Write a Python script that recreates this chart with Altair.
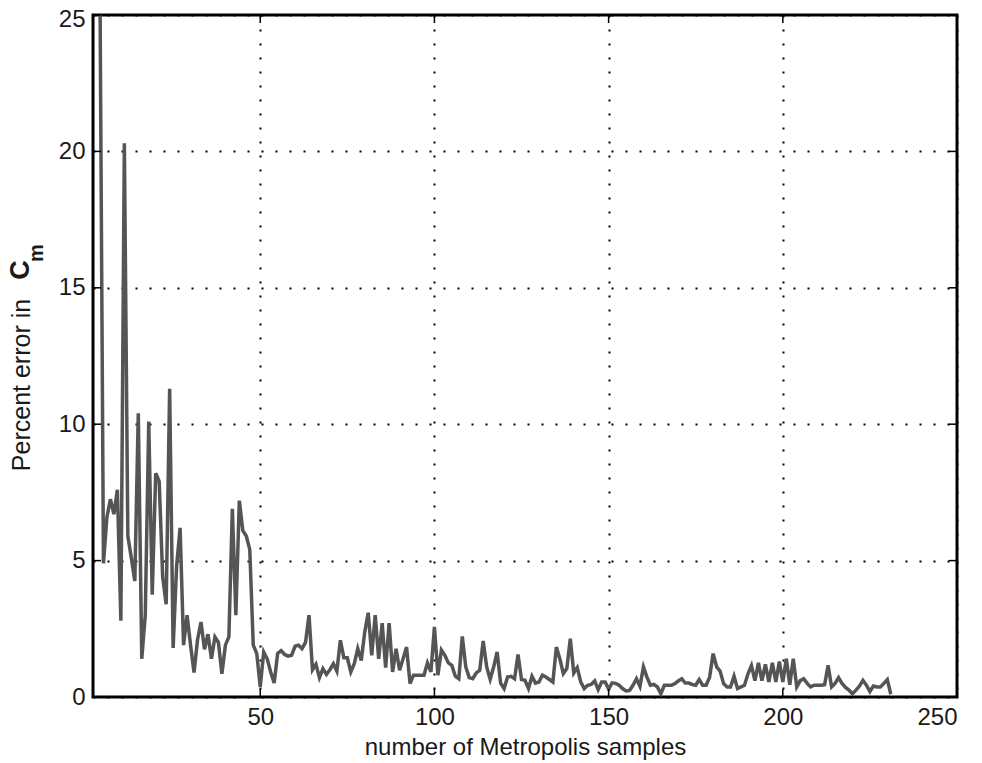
import altair as alt
import pandas as pd

# sample counts (x) and percent error values (y)
samples = list(range(2, 232))
errors = [
    40, 32, 26, 4.9, 6.6, 7.25, 6.7, 7.6, 2.8, 20.3,
    5.9, 5.1, 4.25, 10.4, 1.4, 3.0, 10.1, 3.75, 8.2, 7.9,
    4.4, 3.4, 11.3, 1.8, 4.8, 6.2, 1.9, 3.0, 1.9, 0.9,
    2.1, 2.75, 1.75, 2.3, 1.4, 2.2, 2.0, 0.85, 1.9, 2.2,
    6.9, 3.0, 7.2, 6.1, 5.9, 5.4, 1.9, 1.6, 0.37, 1.65,
    1.4, 0.92, 0.51, 1.6, 1.7, 1.56, 1.5, 1.53, 1.86, 1.9,
    1.77, 2.0, 3.0, 1.0, 1.2, 0.71, 1.04, 0.83, 1.0, 1.22,
    0.95, 2.08, 1.44, 1.44, 0.92, 1.22, 1.77, 1.34, 2.38, 3.09,
    1.53, 3.0, 1.4, 2.71, 1.08, 2.71, 0.92, 1.77, 0.98, 1.4,
    1.83, 0.49, 0.8, 0.8, 0.8, 0.8, 1.25, 0.92, 2.57, 0.8,
    1.72, 1.53, 1.25, 1.16, 0.76, 0.67, 2.22, 1.1, 0.71, 0.67,
    0.88, 0.98, 2.05, 1.1, 0.65, 1.1, 1.65, 0.51, 0.31, 0.73,
    0.76, 0.67, 1.56, 0.64, 0.61, 0.31, 0.76, 0.51, 0.55, 0.8,
    0.73, 0.64, 0.55, 1.83, 1.4, 0.86, 1.04, 2.14, 0.88, 1.08,
    0.55, 0.31, 0.43, 0.46, 0.59, 0.27, 0.55, 0.55, 0.29, 0.52,
    0.5, 0.43, 0.31, 0.22, 0.24, 0.43, 0.67, 0.39, 1.1, 0.73,
    0.43, 0.46, 0.37, 0.12, 0.43, 0.43, 0.43, 0.49, 0.59, 0.67,
    0.51, 0.51, 0.46, 0.43, 0.64, 0.43, 0.43, 0.73, 1.59, 1.1,
    0.95, 0.49, 0.37, 0.37, 0.76, 0.31, 0.37, 0.43, 0.85, 1.15,
    0.6, 1.25, 0.6, 1.2, 0.55, 1.25, 0.55, 1.3, 0.55, 1.4,
    0.45, 1.4, 0.37, 0.6, 0.67, 0.5, 0.37, 0.43, 0.43, 0.43,
    0.45, 1.16, 0.37, 0.5, 0.71, 0.5, 0.35, 0.25, 0.12, 0.25,
    0.4, 0.61, 0.43, 0.2, 0.4, 0.37, 0.37, 0.5, 0.64, 0.1,
]
assert len(samples) == len(errors)

x_ticks = [50, 100, 150, 200, 250]
y_ticks = [0, 5, 10, 15, 20, 25]

x_title = "number of Metropolis samples"
y_title_main = "Percent error in"
y_title_sym = "C"
y_title_sub = "m"

W, H = 864, 682
FONT = "Liberation Sans"
TXT = "#1a1a1a"

df = pd.DataFrame({"n": samples, "err": errors})
xt = pd.DataFrame({"v": x_ticks})
yt = pd.DataFrame({"v": y_ticks})

xscale = alt.Scale(domain=[2, 250], nice=False, zero=False)
yscale = alt.Scale(domain=[0, 25], nice=False)

grid_kw = dict(grid=True, gridColor="black", gridDash=[2, 12], gridWidth=2,
               gridOpacity=1, ticks=False, domain=False)

line = alt.Chart(df).mark_line(color="#555555", strokeWidth=3.5, clip=True).encode(
    x=alt.X("n:Q", scale=xscale,
            axis=alt.Axis(values=x_ticks, title=x_title, labelPadding=8,
                          titlePadding=6, labelFontSize=24, titleFontSize=24,
                          titleFontWeight="normal", labelFont=FONT,
                          titleFont=FONT, labelColor=TXT, titleColor=TXT,
                          **grid_kw)),
    y=alt.Y("err:Q", scale=yscale,
            axis=alt.Axis(values=y_ticks, title=None, labelPadding=8,
                          labelFontSize=24, labelFont=FONT, labelColor=TXT,
                          labelOffset={"condition": {"test": "datum.value == 25",
                                                     "value": 4},
                                       "value": 0},
                          **grid_kw)),
)

tick_len = 8
bottom_ticks = alt.Chart(xt).mark_rule(color="black", strokeWidth=1.5).encode(
    x=alt.X("v:Q", scale=xscale), y=alt.value(H), y2=alt.value(H - tick_len))
top_ticks = alt.Chart(xt).mark_rule(color="black", strokeWidth=1.5).encode(
    x=alt.X("v:Q", scale=xscale), y=alt.value(0), y2=alt.value(tick_len))
left_ticks = alt.Chart(yt).mark_rule(color="black", strokeWidth=1.5).encode(
    y=alt.Y("v:Q", scale=yscale), x=alt.value(0), x2=alt.value(tick_len))
right_ticks = alt.Chart(yt).mark_rule(color="black", strokeWidth=1.5).encode(
    y=alt.Y("v:Q", scale=yscale), x=alt.value(W - tick_len), x2=alt.value(W))

title_df = pd.DataFrame({"main": [y_title_main], "sym": [y_title_sym], "sub": [y_title_sub]})
t_main = alt.Chart(title_df).mark_text(angle=270, font=FONT, fontSize=25,
                                       color=TXT, align="center",
                                       baseline="middle").encode(
    text="main:N", x=alt.value(-71), y=alt.value(370))
t_sym = alt.Chart(title_df).mark_text(angle=270, font=FONT, fontSize=27,
                                      fontWeight="bold", color=TXT,
                                      align="center", baseline="middle").encode(
    text="sym:N", x=alt.value(-72), y=alt.value(255))
t_sub = alt.Chart(title_df).mark_text(angle=270, font=FONT, fontSize=20,
                                      fontWeight="bold", color=TXT,
                                      align="center", baseline="middle").encode(
    text="sub:N", x=alt.value(-56), y=alt.value(238))

chart = alt.layer(line, bottom_ticks, top_ticks, left_ticks, right_ticks,
                  t_main, t_sym, t_sub).properties(
    width=W, height=H,
    autosize=alt.AutoSizeParams(type="none"),
    padding={"left": 85, "top": 7, "right": 17, "bottom": 70},
    background="white",
).configure_view(stroke="black", strokeWidth=3)

chart.save("out.html", embed_options={"renderer": "svg", "actions": False})
